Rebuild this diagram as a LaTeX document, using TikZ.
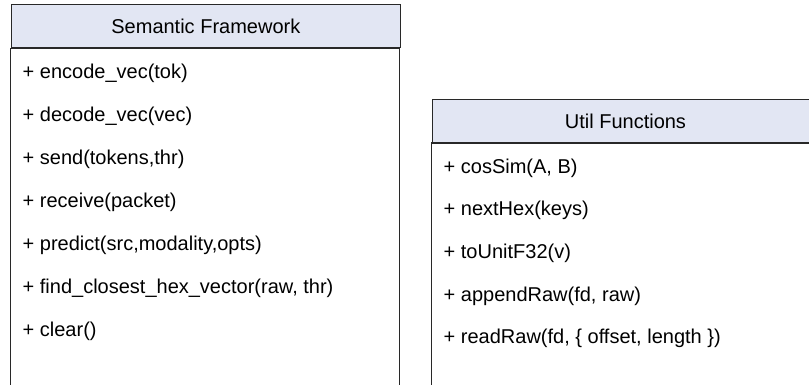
\documentclass[tikz,border=0pt]{standalone}
\usepackage{fontspec}
\setmainfont{Liberation Sans}
\definecolor{hdr}{RGB}{226,230,243}
\definecolor{edge}{RGB}{40,40,40}
\begin{document}
\begin{tikzpicture}[x=1pt,y=-1pt,
  hdrbox/.style={draw=edge, line width=1.3pt, fill=hdr, anchor=north west, inner sep=0pt,
    font=\fontsize{20}{24}\selectfont, text=black},
  bodybox/.style={draw=edge, line width=1.3pt, fill=white},
  member/.style={anchor=base west, inner sep=0pt, font=\fontsize{20}{24}\selectfont, text=black}]
\useasboundingbox (0,0) rectangle (809,385);
\clip (0,0) rectangle (809,385);
% Semantic Framework class
\node[hdrbox, minimum width=389pt, minimum height=43pt] (sfh) at (10.7,4) {Semantic Framework};
\coordinate (sfb) at (399.7,420);
\draw[bodybox] (sfh.south west) rectangle (sfb);
\node[member] (m1) at (22.5,78.6) {+ encode\_vec(tok)};
\node[member] (m2) at (22.5,121.6) {+ decode\_vec(vec)};
\node[member] (m3) at (22.5,164.5) {+ send(tokens,thr)};
\node[member] (m4) at (22.5,207.4) {+ receive(packet)};
\node[member] (m5) at (22.5,250.3) {+ predict(src,modality,opts)};
\node[member] (m6) at (22.5,293.3) {+ find\_closest\_hex\_vector(raw, thr)};
\node[member] (m7) at (22.5,336.3) {+ clear()};
% Util Functions class
\node[hdrbox, minimum width=386pt, minimum height=42.5pt] (ufh) at (431.8,99.2) {Util Functions};
\coordinate (ufb) at (817.8,420);
\draw[bodybox] (ufh.south west) rectangle (ufb);
\node[member] (u1) at (443.5,173.3) {+ cosSim(A, B)};
\node[member] (u2) at (443.5,215.9) {+ nextHex(keys)};
\node[member] (u3) at (443.5,258.5) {+ toUnitF32(v)};
\node[member] (u4) at (443.5,301.1) {+ appendRaw(fd, raw)};
\node[member] (u5) at (443.5,343.7) {+ readRaw(fd, \{ offset, length \})};
\end{tikzpicture}
\end{document}
